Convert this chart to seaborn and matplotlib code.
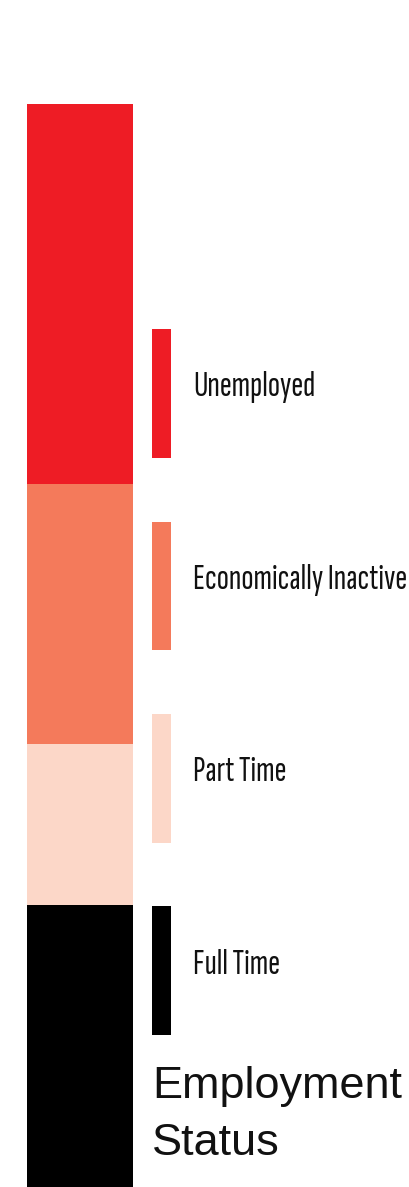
import matplotlib
matplotlib.use("Agg")
import matplotlib.pyplot as plt
import seaborn as sns
import pandas as pd
import numpy as np
from matplotlib.patches import Patch, Rectangle
from matplotlib.legend_handler import HandlerPatch

sns.set_style("white")

categories = ["Full Time", "Part Time", "Economically Inactive", "Unemployed"]
values = [26.0, 14.9, 24.0, 35.1]
colors = ["#000000", "#fcd7c8", "#f47a5b", "#ee1c25"]
title = "Employment\nStatus"

LABEL_FONT = ["Sofia Sans Extra Condensed", "Roboto Condensed", "DejaVu Sans"]
TITLE_FONT = ["Liberation Sans", "DejaVu Sans"]

W, H, DPI = 409, 1187, 100
fig = plt.figure(figsize=(W / DPI, H / DPI), dpi=DPI)
fig.patch.set_facecolor("white")

ax = fig.add_axes([27 / W, 0, 106 / W, 1083 / H])
cum = np.cumsum(values)
df = pd.DataFrame({"grp": ["Employment"] * len(values), "cum": cum, "cat": categories})
# stacking trick: draw cumulative totals, largest first
for i in range(len(values) - 1, -1, -1):
    sns.barplot(data=df.iloc[[i]], x="grp", y="cum", color=colors[i], width=1.0,
                saturation=1, ax=ax, linewidth=0)
ax.set_xlim(-0.5, 0.5)
ax.set_ylim(0, cum[-1])
ax.axis("off")

# size the label font so the longest label spans ~214 px like the reference
renderer = fig.canvas.get_renderer()
probe = fig.text(0, 0, "Economically Inactive", family=LABEL_FONT, fontsize=20)
wpx = probe.get_window_extent(renderer).width
probe.remove()
fs_pt = 20 * 214.0 / wpx
fs = fs_pt * DPI / 72.0  # font size in px

SHIFT_PX = 6.0  # labels sit slightly above the swatch centres in the reference
shift_pt = SHIFT_PX * 72.0 / DPI


def lowered_patch(legend, orig_handle, xdescent, ydescent, width, height, fontsize):
    return Rectangle((-xdescent, -ydescent - shift_pt), width, height)


patch_h, patch_w, pitch, gap = 129.0, 19.0, 192.5, 193.0 - 171.0
hh = (patch_h / fs - 0.245) / 0.65
handles = [Patch(facecolor=colors[i], edgecolor="none", label=categories[i])
           for i in range(len(values) - 1, -1, -1)]
leg = fig.legend(handles=handles, loc="upper left",
                 bbox_to_anchor=(152 / W, 1 - (329 - SHIFT_PX) / H),
                 frameon=False, borderpad=0, borderaxespad=0,
                 handlelength=patch_w / fs, handleheight=hh,
                 labelspacing=(pitch - patch_h) / fs, handletextpad=gap / fs,
                 handler_map={Patch: HandlerPatch(patch_func=lowered_patch)},
                 prop={"family": LABEL_FONT, "size": fs_pt})
for t in leg.get_texts():
    t.set_color("#111111")

fig.text(152 / W, 1 - 1066 / H, title, ha="left", va="top",
         fontsize=45 / DPI * 72, family=TITLE_FONT, linespacing=1.5, color="#111111")

fig.savefig("out.png", dpi=DPI, facecolor="white")
